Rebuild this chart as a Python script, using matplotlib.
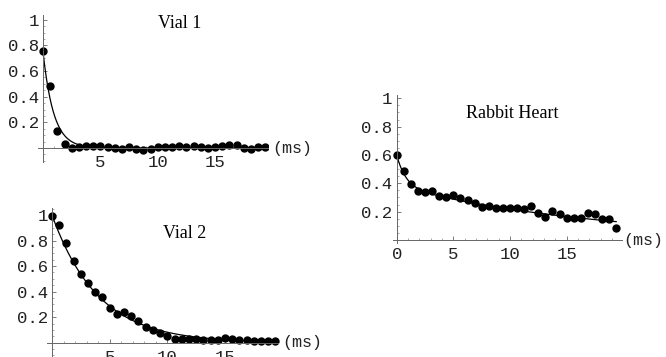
import numpy as np
import matplotlib
matplotlib.use("Agg")
import matplotlib.pyplot as plt
from matplotlib.ticker import FixedLocator, MultipleLocator
import matplotlib.transforms as mtransforms

# echo times (ms), 32 echoes
t = np.arange(32) * 0.625

vial1 = [0.753, 0.48, 0.135, 0.034, 0.0, 0.01, 0.013, 0.018, 0.013, 0.01, 0.0,
         -0.01, 0.008, -0.005, -0.013, -0.005, 0.008, 0.01, 0.01, 0.018, 0.008,
         0.013, 0.01, 0.0, 0.01, 0.013, 0.026, 0.023, 0.0, -0.01, 0.008, 0.01]
vial2 = [0.99, 0.92, 0.78, 0.64, 0.535, 0.47, 0.40, 0.355, 0.27, 0.227, 0.243,
         0.209, 0.17, 0.12, 0.10, 0.073, 0.052, 0.026, 0.026, 0.026, 0.026,
         0.018, 0.018, 0.023, 0.04, 0.03, 0.018, 0.018, 0.016, 0.013, 0.016, 0.013]
rabbit = [0.60, 0.49, 0.395, 0.348, 0.341, 0.348, 0.313, 0.304, 0.318, 0.294,
          0.282, 0.259, 0.236, 0.24, 0.229, 0.224, 0.229, 0.226, 0.219, 0.24,
          0.193, 0.165, 0.207, 0.186, 0.158, 0.158, 0.153, 0.193, 0.183, 0.146,
          0.146, 0.087]

# fitted exponential parameters (amplitude, T2 in ms)
vial1_fit = [(0.75, 0.92)]
vial2_fit = [(1.0, 4.0)]
rabbit_fit = [(0.22, 0.8), (0.38, 18.0)]

ytick_vals = [0.2, 0.4, 0.6, 0.8, 1.0]
ytick_labels = ["0.2", "0.4", "0.6", "0.8", "1"]

W, H = 666, 357
fig = plt.figure(figsize=(W / 100, H / 100), dpi=100)
mono = "Liberation Mono"
serif = "Liberation Serif"
axis_col = "#666666"


def make_axes(x0, y0, sx, sy, xlim, ylim, xticks, ms_gap=3):
    left = x0 + xlim[0] * sx
    right = x0 + xlim[1] * sx
    top = y0 - ylim[1] * sy
    bottom = y0 - ylim[0] * sy
    ax = fig.add_axes([left / W, 1 - bottom / H, (right - left) / W, (bottom - top) / H])
    ax.set_xlim(xlim)
    ax.set_ylim(ylim)
    ax.patch.set_alpha(0)
    for s in ["top", "right"]:
        ax.spines[s].set_visible(False)
    ax.spines["left"].set_position(("data", 0))
    ax.spines["bottom"].set_position(("data", 0))
    for s in ["left", "bottom"]:
        ax.spines[s].set_color(axis_col)
        ax.spines[s].set_linewidth(0.7)
    ax.xaxis.set_major_locator(FixedLocator(xticks))
    ax.set_xticklabels([str(v) for v in xticks])
    ax.xaxis.set_minor_locator(MultipleLocator(1))
    ax.yaxis.set_major_locator(FixedLocator(ytick_vals))
    ax.set_yticklabels(ytick_labels)
    ax.yaxis.set_minor_locator(MultipleLocator(0.05))
    ax.tick_params(which="major", direction="in", length=3, width=0.6, color=axis_col,
                   labelsize=12.5, pad=5)
    ax.tick_params(which="minor", direction="in", length=1.5, width=0.4, color=axis_col)
    ax.tick_params(axis="y", pad=3)
    for lab in ax.get_xticklabels() + ax.get_yticklabels():
        lab.set_family(mono)
        lab.set_color("#222222")
    trans = mtransforms.blended_transform_factory(ax.transAxes, ax.transData)
    ax.annotate("(ms)", xy=(1.0, 0), xycoords=trans, xytext=(ms_gap, 0),
                textcoords="offset points", ha="left", va="center",
                family=mono, fontsize=12, color="#222222", annotation_clip=False)
    return ax


def fit_curve(params, tt):
    return sum(a * np.exp(-tt / tau) for a, tau in params)


tt = np.linspace(0, t[-1], 400)

ax1 = make_axes(43, 148, 11.47, 128.3, (-0.44, 19.65), (-0.11, 1.04), [5, 10, 15])
ax1.plot(tt, fit_curve(vial1_fit, tt), color="black", lw=0.9)
ax1.plot(t, vial1, "o", color="black", ms=5)

ax2 = make_axes(52, 342.7, 11.53, 127.7, (-0.43, 19.6), (-0.2, 1.055), [5, 10, 15])
ax2.plot(tt, fit_curve(vial2_fit, tt), color="black", lw=0.9)
ax2.plot(t, vial2, "o", color="black", ms=5, clip_on=False)

ax3 = make_axes(396.7, 240, 11.33, 141.7, (-0.33, 19.85), (-0.02, 1.023), [0, 5, 10, 15],
                ms_gap=1.5)
ax3.plot(tt, fit_curve(rabbit_fit, tt), color="black", lw=0.9)
ax3.plot(t, rabbit, "o", color="black", ms=5, clip_on=False)

fig.text(180 / W, 1 - 24 / H, "Vial 1", ha="center", va="center", family=serif, fontsize=13)
fig.text(185 / W, 1 - 234 / H, "Vial 2", ha="center", va="center", family=serif, fontsize=13)
fig.text(512 / W, 1 - 113 / H, "Rabbit Heart", ha="center", va="center", family=serif, fontsize=13)

fig.savefig("out.png", dpi=100)
